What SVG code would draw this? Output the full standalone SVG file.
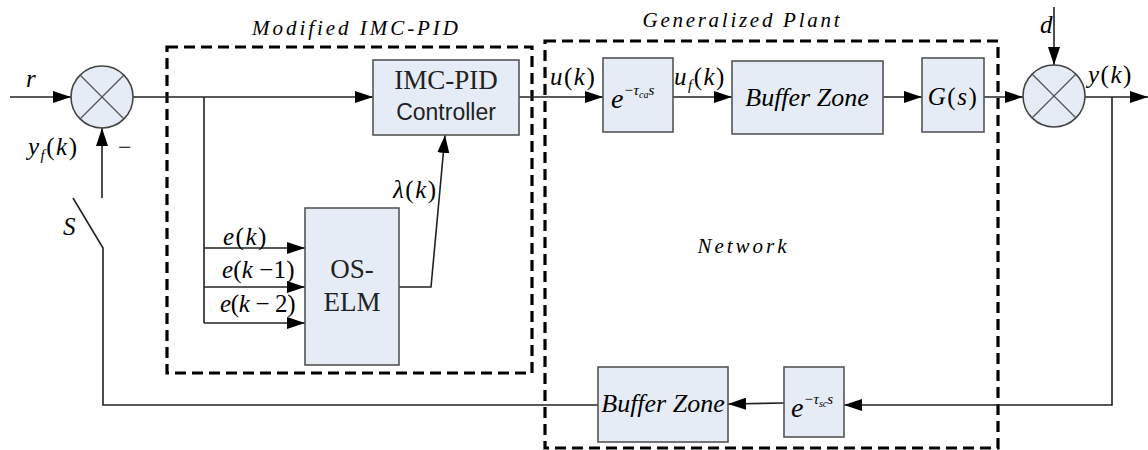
<svg xmlns="http://www.w3.org/2000/svg" width="1148" height="450" viewBox="0 0 1148 450">
<defs>
  <marker id="arr" viewBox="0 0 18 12" refX="18" refY="6" markerWidth="18" markerHeight="12" markerUnits="userSpaceOnUse" orient="auto">
    <path d="M0,0 L18,6 L0,12 Z" fill="#000"/>
  </marker>
  <style>
    .blk { fill: #e6ecf6; stroke: #555; stroke-width: 1.6; }
    .sum { fill: #e6ecf6; stroke: #444; stroke-width: 1.6; }
    .x { stroke: #555; stroke-width: 1.3; }
    .ln { fill: none; stroke: #222; stroke-width: 1.6; }
    .ar { fill: none; stroke: #222; stroke-width: 1.6; marker-end: url(#arr); }
    .dash { fill: none; stroke: #000; stroke-width: 3.2; stroke-dasharray: 11 6; }
    .m, .rm, .t, .bz, .sr { font-family: "Liberation Serif", "DejaVu Serif", "Times New Roman", serif; fill: #000; }
    .m { font-style: italic; font-size: 25px; letter-spacing: 1.5px; }
    .rm { font-size: 24px; }
    .t { font-style: italic; font-size: 21px; }
    .bz { font-style: italic; font-size: 26px; }
    .sr { font-size: 27px; fill: #222; }
    .ss { font-family: "Liberation Sans", Arial, sans-serif; font-size: 23px; fill: #222; }
    .ex { letter-spacing: 0; font-size: 28px; }
  </style>
</defs>

<!-- dashed group boundaries -->
<g id="modified-imc-pid">
  <rect class="dash" x="167" y="47" width="365" height="326"/>
  <text class="t" x="355" y="35" text-anchor="middle" textLength="206" lengthAdjust="spacing">Modified IMC-PID</text>
</g>
<g id="generalized-plant">
  <rect class="dash" x="545" y="41" width="453" height="407"/>
  <text class="t" x="741" y="27" text-anchor="middle" textLength="197" lengthAdjust="spacing">Generalized Plant</text>
  <text class="t" x="742" y="253" text-anchor="middle" textLength="89" lengthAdjust="spacing">Network</text>
</g>

<!-- connectors -->
<g id="connectors">
  <line class="ar" x1="10" y1="97" x2="71" y2="97"/>
  <line class="ar" x1="133" y1="97" x2="373" y2="97"/>
  <polyline class="ln" points="204,97 204,323"/>
  <line class="ar" x1="204" y1="248" x2="305" y2="248"/>
  <line class="ar" x1="204" y1="287" x2="305" y2="287"/>
  <line class="ar" x1="204" y1="323" x2="305" y2="323"/>
  <polyline class="ar" points="399,287 431,287 445,135"/>
  <line class="ar" x1="519" y1="97" x2="603" y2="97"/>
  <line class="ar" x1="673" y1="97" x2="732" y2="97"/>
  <line class="ar" x1="883" y1="97" x2="922" y2="97"/>
  <line class="ar" x1="984" y1="97" x2="1023" y2="97"/>
  <line class="ar" x1="1054" y1="7" x2="1054" y2="65"/>
  <line class="ar" x1="1085" y1="97" x2="1148" y2="97"/>
  <polyline class="ar" points="1112,97 1112,405 844,405"/>
  <line class="ar" x1="784" y1="403" x2="728" y2="404"/>
  <polyline class="ln" points="598,405 103,405 103,248 73,198"/>
  <line class="ar" x1="102" y1="198" x2="102" y2="128"/>
</g>

<!-- summing junctions -->
<g id="sum-input">
  <circle class="sum" cx="102" cy="97" r="31"/>
  <line class="x" x1="80" y1="75" x2="124" y2="119"/>
  <line class="x" x1="124" y1="75" x2="80" y2="119"/>
</g>
<g id="sum-output">
  <circle class="sum" cx="1054" cy="96" r="31"/>
  <line class="x" x1="1032" y1="74" x2="1076" y2="118"/>
  <line class="x" x1="1076" y1="74" x2="1032" y2="118"/>
</g>

<!-- blocks -->
<g id="imc-pid-controller">
  <rect class="blk" x="373" y="60" width="146" height="75"/>
  <text class="sr" x="446" y="89" text-anchor="middle" font-size="26">IMC-PID</text>
  <text class="ss" x="446" y="120" text-anchor="middle">Controller</text>
</g>
<g id="os-elm">
  <rect class="blk" x="305" y="208" width="94" height="157"/>
  <text class="sr" x="352" y="278" text-anchor="middle">OS-</text>
  <text class="sr" x="352" y="311" text-anchor="middle">ELM</text>
</g>
<g id="delay-ca">
  <rect class="blk" x="603" y="58" width="70" height="74"/>
  <text class="m ex" x="611" y="108">e<tspan font-size="15" dy="-13">−τ</tspan><tspan font-size="10" dy="3">ca</tspan><tspan font-size="15" dy="-3">s</tspan></text>
</g>
<g id="buffer-zone-forward">
  <rect class="blk" x="732" y="61" width="151" height="73"/>
  <text class="bz" x="807" y="106" text-anchor="middle">Buffer Zone</text>
</g>
<g id="plant-g">
  <rect class="blk" x="922" y="58" width="62" height="74"/>
  <text class="m" x="953" y="105" text-anchor="middle">G<tspan font-style="normal">(</tspan>s<tspan font-style="normal">)</tspan></text>
</g>
<g id="delay-sc">
  <rect class="blk" x="784" y="367" width="60" height="70"/>
  <text class="m ex" x="791" y="417">e<tspan font-size="15" dy="-13">−τ</tspan><tspan font-size="10" dy="3">sc</tspan><tspan font-size="15" dy="-3">s</tspan></text>
</g>
<g id="buffer-zone-feedback">
  <rect class="blk" x="598" y="367" width="130" height="75"/>
  <text class="bz" x="663" y="412" text-anchor="middle" font-size="24">Buffer Zone</text>
</g>

<!-- signal labels -->
<g id="labels">
  <text class="m" x="26" y="87">r</text>
  <text class="m" x="28" y="155">y<tspan font-size="15" dy="5">f</tspan><tspan dy="-5" font-style="normal">(</tspan>k<tspan font-style="normal">)</tspan></text>
  <text class="rm" x="118" y="155">−</text>
  <text class="m" x="63" y="235">S</text>
  <text class="m" x="223" y="245">e<tspan font-style="normal">(</tspan>k<tspan font-style="normal">)</tspan></text>
  <text class="m" x="222" y="278" textLength="74" lengthAdjust="spacing">e<tspan font-style="normal">(</tspan>k<tspan font-style="normal"> −1)</tspan></text>
  <text class="m" x="220" y="312" textLength="77" lengthAdjust="spacing">e<tspan font-style="normal">(</tspan>k<tspan font-style="normal"> − 2)</tspan></text>
  <text class="m" x="393" y="198">λ<tspan font-style="normal">(</tspan>k<tspan font-style="normal">)</tspan></text>
  <text class="m" x="550" y="85">u<tspan font-style="normal">(</tspan>k<tspan font-style="normal">)</tspan></text>
  <text class="m" x="674" y="85">u<tspan font-size="15" dy="5">f</tspan><tspan dy="-5" font-style="normal">(</tspan>k<tspan font-style="normal">)</tspan></text>
  <text class="m" x="1040" y="33">d</text>
  <text class="m" x="1088" y="83">y<tspan font-style="normal">(</tspan>k<tspan font-style="normal">)</tspan></text>
</g>
</svg>
